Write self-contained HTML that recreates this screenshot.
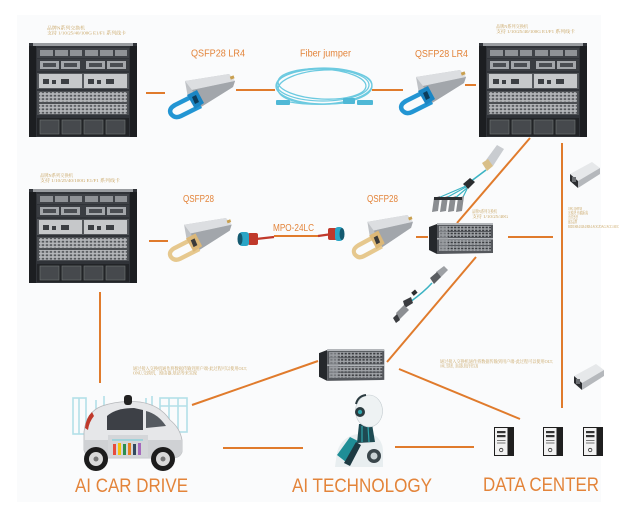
<!DOCTYPE html>
<html><head><meta charset="utf-8"><style>
html,body{margin:0;padding:0;background:#fff;}
svg{display:block;}
.lbl{font-family:"Liberation Sans",Arial,sans-serif;fill:#e3843a;}
.cap{font-family:"Liberation Serif","Noto Serif CJK SC","Noto Sans CJK SC",serif;fill:#c9a563;font-size:4.4px;}
</style></head><body>
<svg width="628" height="506" viewBox="0 0 628 506" xmlns="http://www.w3.org/2000/svg">
<defs>
<pattern id="ports" patternUnits="userSpaceOnUse" width="4" height="3.4">
<rect width="4" height="3.4" fill="#b6b8bb"/><rect x="0.7" y="0.8" width="2.5" height="1.8" fill="#55585c"/>
</pattern>
<pattern id="swp" patternUnits="userSpaceOnUse" width="3.5" height="3">
<rect width="3.5" height="3" fill="#a2a5a9"/><rect x="0.6" y="0.7" width="2.2" height="1.6" fill="#3a3c40"/>
</pattern>
<g id="ch">
<rect width="108" height="94" fill="#303338"/>
<rect x="0" y="3" width="7" height="91" fill="#1c1e21"/>
<rect x="101" y="3" width="7" height="91" fill="#1c1e21"/>
<rect x="4" y="0" width="100" height="3" fill="#9a9da1"/>
<rect x="8" y="5" width="92" height="10" fill="#3f4247"/>
<g fill="#8f9296"><rect x="11" y="7" width="13" height="6"/><rect x="26" y="7" width="13" height="6"/><rect x="41" y="7" width="12" height="6"/><rect x="56" y="7" width="13" height="6"/><rect x="71" y="7" width="13" height="6"/><rect x="86" y="7" width="12" height="6"/></g>
<rect x="8" y="16" width="92" height="12" fill="#3a3d42"/>
<g fill="#a3a6aa"><rect x="11" y="18" width="19" height="8"/><rect x="32" y="18" width="19" height="8"/><rect x="57" y="18" width="19" height="8"/><rect x="78" y="18" width="19" height="8"/></g>
<g fill="#4a4d52"><rect x="14" y="20" width="13" height="4"/><rect x="35" y="20" width="13" height="4"/><rect x="60" y="20" width="13" height="4"/><rect x="81" y="20" width="13" height="4"/></g>
<rect x="8" y="30" width="92" height="16" fill="#55585c"/>
<rect x="10" y="31" width="43" height="14" fill="#c6c8ca"/>
<rect x="55" y="31" width="43" height="14" fill="#c6c8ca"/>
<g fill="#3c3f43"><rect x="14" y="36" width="6" height="5"/><rect x="23" y="37" width="4" height="4"/><rect x="32" y="36" width="8" height="5"/><rect x="59" y="36" width="6" height="5"/><rect x="68" y="37" width="4" height="4"/><rect x="77" y="36" width="8" height="5"/></g>
<rect x="8" y="48" width="92" height="24" fill="#4c4f53"/>
<rect x="10" y="49" width="88" height="10" fill="url(#ports)"/>
<rect x="10" y="61" width="88" height="10" fill="url(#ports)"/>
<rect x="8" y="75" width="92" height="18" fill="#222427"/>
<g fill="#46494d" stroke="#707376" stroke-width="0.6"><rect x="11" y="77" width="19" height="14"/><rect x="33" y="77" width="19" height="14"/><rect x="55" y="77" width="19" height="14"/><rect x="77" y="77" width="19" height="14"/></g>
</g>
<g id="sw">
<polygon points="0,4 8,1 8,31 0,27" fill="#25282c"/>
<polygon points="8,1 64,1 64,30 8,31" fill="#55585d"/>
<rect x="8" y="0" width="56" height="2" fill="#b3b6ba"/>
<rect x="10" y="3" width="52" height="5" fill="url(#swp)"/>
<rect x="10" y="9" width="52" height="5" fill="url(#swp)"/>
<rect x="8" y="15" width="56" height="1.5" fill="#b3b6ba"/>
<rect x="10" y="17" width="52" height="5" fill="url(#swp)"/>
<rect x="10" y="23" width="52" height="5" fill="url(#swp)"/>
<rect x="10" y="3" width="9" height="25" fill="#9a9da1" opacity="0.6"/>
</g>
<g id="qbody">
<polygon points="18,8 62,1 68,8 66,14 34,34 21,25" fill="#bfc2c6"/>
<polygon points="18,8 62,1 68,8 25,17" fill="#dcdee1"/>
<polygon points="25,17 68,8 66,14 34,34" fill="#a2a6ab"/>
<rect x="63" y="3" width="4" height="3" fill="#c9a050" transform="rotate(-20 65 4)"/>
</g>
<g id="lr4">
<use href="#qbody"/>
<path d="M24,24 L8,32 Q1,36 4,41 Q8,46 14,43 L34,33" fill="none" stroke="#2295d3" stroke-width="4.5" stroke-linejoin="round"/>
<polygon points="20,22 30,17 37,30 28,36" fill="#1b86c4"/>
<polygon points="25,24 29,22 32,29 28,31" fill="#0d3d5c"/>
</g>
<g id="gq">
<use href="#qbody"/>
<path d="M24,24 L8,32 Q1,36 4,41 Q8,46 14,43 L34,33" fill="none" stroke="#e6c88e" stroke-width="4.5" stroke-linejoin="round"/>
<polygon points="20,22 30,17 37,30 28,36" fill="#dcb878"/>
<polygon points="25,24 29,22 32,29 28,31" fill="#3a3a3a"/>
</g>
<g id="srv">
<rect x="0" y="0" width="20" height="29" fill="#1f1f1f"/>
<rect x="1" y="1" width="12.5" height="27" fill="#f2f2f2"/>
<rect x="3" y="4" width="8.5" height="2.2" fill="#333"/>
<rect x="3" y="8" width="8.5" height="2.2" fill="#333"/>
<rect x="3" y="13" width="8.5" height="1" fill="#777"/>
<rect x="3" y="15.5" width="8.5" height="1" fill="#777"/>
<circle cx="7.2" cy="23" r="1.7" fill="none" stroke="#333" stroke-width="0.8"/>
</g>
<g id="sfp">
<polygon points="2,12 24,0 32,6 10,19" fill="#e6e8ea"/>
<polygon points="10,19 32,6 32,12 10,26" fill="#b5b8bc"/>
<polygon points="2,12 10,19 10,26 2,19" fill="#2a2c2f"/>
<rect x="4" y="15" width="4" height="5" fill="#6b6e72"/>
</g>
</defs>

<rect x="17" y="15" width="584" height="487" fill="#fafbfc"/>

<!-- connectors -->
<g stroke="#e07b2c" stroke-width="2" fill="none">
<line x1="146" y1="93" x2="165" y2="93"/>
<line x1="236" y1="90" x2="275" y2="90"/>
<line x1="372" y1="90" x2="403" y2="90"/>
<line x1="465" y1="85" x2="476" y2="85"/>
<line x1="530" y1="138" x2="457" y2="223"/>
<line x1="562" y1="143" x2="562" y2="408"/>
<line x1="149" y1="241" x2="168" y2="241"/>
<line x1="274" y1="236" x2="318" y2="236"/>
<line x1="416" y1="237" x2="428" y2="237"/>
<line x1="508" y1="237" x2="553" y2="237"/>
<line x1="476" y1="257" x2="387" y2="362"/>
<line x1="100" y1="292" x2="100" y2="383"/>
<line x1="192" y1="405" x2="318" y2="361"/>
<line x1="399" y1="369" x2="520" y2="419"/>
<line x1="223" y1="448" x2="303" y2="448"/>
<line x1="395" y1="447" x2="474" y2="447"/>
</g>

<!-- chassis -->
<use href="#ch" transform="translate(29,43)"/>
<use href="#ch" transform="translate(479,43)"/>
<use href="#ch" transform="translate(29,189)"/>

<!-- captions -->
<text class="cap" x="47" y="29.5" textLength="38" lengthAdjust="spacingAndGlyphs">品牌N系列交换机</text>
<text class="cap" x="47" y="34.5" textLength="79" lengthAdjust="spacingAndGlyphs">支持 1/10/25/40/100G E1/F1 系列线卡</text>
<text class="cap" x="496" y="28" textLength="32" lengthAdjust="spacingAndGlyphs">品牌N系列交换机</text>
<text class="cap" x="496" y="33" textLength="79" lengthAdjust="spacingAndGlyphs">支持 1/10/25/40/100G E1/F1 系列线卡</text>
<text class="cap" x="40" y="177" textLength="33" lengthAdjust="spacingAndGlyphs">品牌N系列交换机</text>
<text class="cap" x="40" y="182" textLength="80" lengthAdjust="spacingAndGlyphs">支持 1/10/25/40/100G E1/F1 系列线卡</text>
<text class="cap" x="472" y="213" textLength="25" lengthAdjust="spacingAndGlyphs">品牌N系列交换机</text>
<text class="cap" x="472" y="218" textLength="36" lengthAdjust="spacingAndGlyphs">支持 1/10/25/40G</text>
<text class="cap" x="568" y="210" textLength="14" lengthAdjust="spacingAndGlyphs">100G QSFP28</text>
<text class="cap" x="568" y="214.5" textLength="20" lengthAdjust="spacingAndGlyphs">光模块 传输距离</text>
<text class="cap" x="568" y="219" textLength="10" lengthAdjust="spacingAndGlyphs">光纤类型</text>
<text class="cap" x="568" y="223.5" textLength="9" lengthAdjust="spacingAndGlyphs">兼容品牌</text>
<text class="cap" x="568" y="228" textLength="51" lengthAdjust="spacingAndGlyphs">BIDI/SR4/LR4/ER4 AOC/DAC/ACC/AEC</text>
<text class="cap" x="133" y="370" textLength="114" lengthAdjust="spacingAndGlyphs">通过接入交换机通作将数据传输到用户端-此过程可以使用OLT,</text>
<text class="cap" x="133" y="374.5" textLength="64" lengthAdjust="spacingAndGlyphs">ONU,交换机，路由器,基站等来实现</text>
<text class="cap" x="440" y="363" textLength="113" lengthAdjust="spacingAndGlyphs">通过接入交换机通作将数据传输到用户端-此过程可以使用OLT,</text>
<text class="cap" x="440" y="367.5" textLength="38" lengthAdjust="spacingAndGlyphs">ONU,交换机，路由器,基站等来实现</text>

<!-- modules -->
<use href="#lr4" transform="translate(167,73)"/>
<use href="#lr4" transform="translate(398,69)"/>
<use href="#gq" transform="translate(167,217) scale(0.95,0.97)"/>
<use href="#gq" transform="translate(351,214) scale(0.91,0.98)"/>

<!-- fiber jumper coil -->
<g fill="none" stroke="#6ccae0" stroke-width="1.3">
<ellipse cx="324" cy="86" rx="48" ry="18"/>
<ellipse cx="323" cy="85" rx="46" ry="16"/>
<ellipse cx="325" cy="87" rx="47" ry="17" transform="rotate(-3 325 87)"/>
<ellipse cx="322" cy="84" rx="44" ry="15" transform="rotate(3 322 84)"/>
<path d="M290,102 Q310,106 345,103"/>
</g>
<g fill="#4fb8d6"><rect x="276" y="100" width="14" height="5" rx="1"/><rect x="343" y="98" width="12" height="6" rx="1"/><rect x="357" y="100" width="16" height="5" rx="1"/></g>

<!-- MPO-24LC -->
<line x1="256" y1="239" x2="274" y2="237" stroke="#c0392b" stroke-width="2.2"/>
<line x1="318" y1="236" x2="332" y2="234" stroke="#c0392b" stroke-width="2.2"/>
<rect x="248" y="233" width="10" height="12" rx="2" fill="#c0392b"/>
<rect x="239" y="232" width="10" height="14" rx="3" fill="#2aa5c6"/>
<ellipse cx="240" cy="239" rx="2.5" ry="6" fill="#145a70"/>
<rect x="328" y="228" width="9" height="12" rx="2" fill="#c0392b"/>
<rect x="335" y="227" width="8" height="14" rx="3" fill="#2aa5c6"/>
<ellipse cx="342" cy="234" rx="2.5" ry="6" fill="#145a70"/>

<!-- switches -->
<use href="#sw" transform="translate(429,223)"/>
<use href="#sw" transform="translate(319,349) scale(1.02,1.03)"/>

<!-- SFPs -->
<use href="#sfp" transform="translate(568,162)"/>
<use href="#sfp" transform="translate(572,364)"/>

<!-- breakout cable -->
<polygon points="486,160 497,145 504,149 493,166" fill="#c9ccd0"/>
<polygon points="482,163 488,159 493,166 487,171" fill="#d9bf88"/>
<path d="M486,170 L470,182" stroke="#3bb3c3" stroke-width="1.6" fill="none"/>
<polygon points="463,184 470,178 475,182 468,189" fill="#2b2d30"/>
<g stroke="#3bb3c3" stroke-width="1.2" fill="none">
<path d="M466,186 L438,198"/><path d="M466,187 L446,198"/><path d="M467,188 L454,199"/><path d="M467,189 L462,199"/>
</g>
<g fill="#8a8d91">
<polygon points="434,198 440,196 438,211 432,212"/>
<polygon points="442,198 448,196 446,211 440,212"/>
<polygon points="450,198 456,196 454,211 448,212"/>
<polygon points="458,198 464,196 462,211 456,212"/>
</g>
<g fill="#2c2e31"><rect x="434" y="197" width="28" height="3"/></g>

<!-- DAC cable -->
<polygon points="436,272 444,266 448,270 440,278" fill="#9da0a4"/>
<polygon points="430,278 437,272 441,277 434,284" fill="#5a5d61"/>
<path d="M432,283 Q424,292 410,302" stroke="#3bb3c3" stroke-width="1.5" fill="none"/>
<rect x="412" y="291" width="5" height="4" fill="#2b2d30" transform="rotate(-40 414 293)"/>
<polygon points="403,301 411,297 413,303 405,308" fill="#3a3c40"/>
<polygon points="396,313 404,305 409,310 399,320" fill="#8c8f93"/>
<polygon points="393,318 397,314 400,320 396,323" fill="#3a3c40"/>

<!-- car -->
<g fill="none" stroke="#b3e0e8" stroke-width="1.6">
<rect x="73" y="398" width="13" height="36"/>
<line x1="79" y1="398" x2="79" y2="434"/>
<line x1="96" y1="400" x2="96" y2="430"/>
<line x1="104" y1="396" x2="104" y2="428"/>
<line x1="146" y1="398" x2="146" y2="426"/>
<line x1="152" y1="396" x2="152" y2="428"/>
<rect x="160" y="398" width="27" height="34"/>
<line x1="160" y1="406" x2="187" y2="406"/>
<line x1="169" y1="398" x2="169" y2="432"/>
<line x1="178" y1="398" x2="178" y2="432"/>
</g>
<path d="M84,450 L84,432 Q86,412 102,406 Q120,400 140,402 Q160,405 170,420 Q180,428 182,440 L182,452 Q180,458 172,458 L96,458 Q86,458 84,450 Z" fill="#e6e7e9" stroke="#b5b7ba" stroke-width="0.8"/>
<path d="M84,440 L182,440 L182,452 Q180,458 172,458 L96,458 Q86,458 84,450 Z" fill="#cfd1d4"/>
<rect x="124" y="395" width="8" height="10" rx="3" fill="#222"/>
<path d="M107,430 L107,416 Q116,408 134,408 L143,410 L143,430 Z" fill="#3d4046"/>
<path d="M146,411 Q158,414 166,426 L146,428 Z" fill="#555a60"/>
<path d="M85,428 Q86,418 92,412 L94,416 Q89,422 88,430 Z" fill="#c0392b"/>
<rect x="108" y="435" width="40" height="22" fill="#d4d6d9"/>
<line x1="112" y1="440" x2="143" y2="440" stroke="#7fd0dc" stroke-width="1.2"/>
<g><rect x="113" y="444" width="3" height="11" fill="#e74c3c"/><rect x="118" y="443" width="3" height="12" fill="#f1c40f"/><rect x="123" y="444" width="3" height="11" fill="#2c8e4e"/><rect x="128" y="443" width="3" height="12" fill="#e67e22"/><rect x="133" y="444" width="3" height="11" fill="#34495e"/><rect x="138" y="443" width="3" height="12" fill="#a569bd"/></g>
<circle cx="96" cy="459" r="12" fill="#1c1c1c"/><circle cx="96" cy="459" r="7" fill="#d9d9d9"/><circle cx="96" cy="459" r="2.5" fill="#777"/>
<circle cx="163" cy="459" r="12" fill="#1c1c1c"/><circle cx="163" cy="459" r="7" fill="#d9d9d9"/><circle cx="163" cy="459" r="2.5" fill="#777"/>

<!-- robot -->
<path d="M335,467 L337,452 Q342,436 358,434 L372,434 Q382,438 383,450 L383,467 Z" fill="#e8eef0"/>
<polygon points="337,455 350,437 358,441 346,462" fill="#1f8e96"/>
<polygon points="344,463 356,442 361,445 350,466" fill="#1d3a42"/>
<polygon points="359,424 372,424 375,442 357,443" fill="#1e4a52"/>
<line x1="362" y1="426" x2="362" y2="442" stroke="#2fa6ad" stroke-width="1.2"/>
<line x1="368" y1="426" x2="369" y2="442" stroke="#2fa6ad" stroke-width="1.2"/>
<ellipse cx="369" cy="411" rx="13.5" ry="16" fill="#eef2f3" stroke="#c4ccd0" stroke-width="0.6"/>
<path d="M356,404 Q358,396 366,395" stroke="#2b3b40" stroke-width="2" fill="none"/>
<circle cx="360" cy="412" r="5" fill="#2b3b40"/><circle cx="360" cy="412" r="2.2" fill="#2fa6ad"/>
<circle cx="374" cy="456" r="7" fill="#3a464b"/><circle cx="374" cy="456" r="3.5" fill="#c9d2d5"/>

<!-- servers -->
<use href="#srv" transform="translate(494,427)"/>
<use href="#srv" transform="translate(543,427)"/>
<use href="#srv" transform="translate(583,427)"/>

<!-- labels -->
<text class="lbl" x="191" y="56.5" font-size="10" textLength="54" lengthAdjust="spacingAndGlyphs">QSFP28 LR4</text>
<text class="lbl" x="300" y="56.5" font-size="10" textLength="51" lengthAdjust="spacingAndGlyphs">Fiber jumper</text>
<text class="lbl" x="415" y="57" font-size="10" textLength="53" lengthAdjust="spacingAndGlyphs">QSFP28 LR4</text>
<text class="lbl" x="183" y="202" font-size="10" textLength="31" lengthAdjust="spacingAndGlyphs">QSFP28</text>
<text class="lbl" x="273" y="231" font-size="10" textLength="41" lengthAdjust="spacingAndGlyphs">MPO-24LC</text>
<text class="lbl" x="367" y="202" font-size="10" textLength="31" lengthAdjust="spacingAndGlyphs">QSFP28</text>
<text class="lbl" x="75" y="492" font-size="19.5" textLength="113" lengthAdjust="spacingAndGlyphs">AI CAR DRIVE</text>
<text class="lbl" x="292" y="492" font-size="19.5" textLength="140" lengthAdjust="spacingAndGlyphs">AI TECHNOLOGY</text>
<text class="lbl" x="483" y="491" font-size="19.5" textLength="116" lengthAdjust="spacingAndGlyphs">DATA CENTER</text>
</svg>
</body></html>
